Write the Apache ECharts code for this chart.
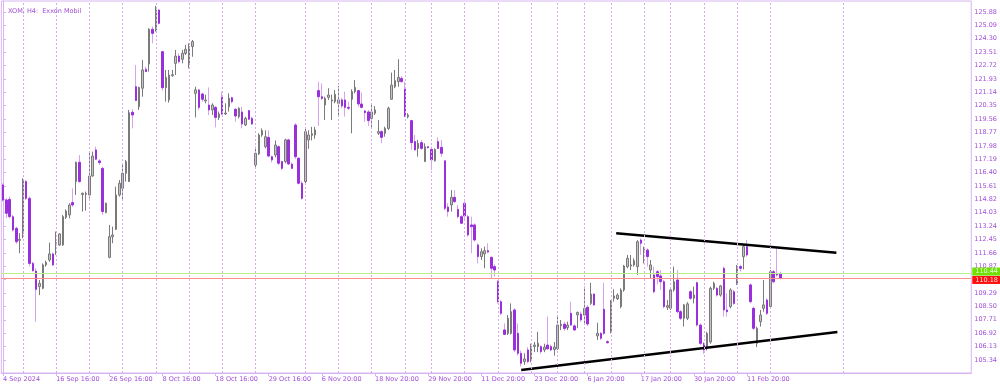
<!DOCTYPE html>
<html><head><meta charset="utf-8">
<script src="https://cdn.jsdelivr.net/npm/echarts@6/dist/echarts.min.js"></script>
<style>html,body{margin:0;padding:0;background:#fff}#c{width:1000px;height:384px}</style>
</head><body><div id="c"></div>
<script>
// [open, close, low, high] for each H4 bar
const ohlc = [
[115.67,114.78,114.69,115.77],[114.78,114.00,113.70,114.88],[114.82,113.80,113.70,114.98],[113.80,113.01,112.92,113.90],[113.11,112.32,112.20,113.20],
[112.40,112.46,111.64,112.82],[112.82,115.96,112.52,116.06],[115.87,114.88,114.78,115.96],[114.88,111.04,110.85,114.98],[111.04,110.61,110.55,111.14],
[110.59,109.51,107.60,110.75],[109.67,109.86,109.17,110.06],[109.57,110.95,109.51,111.04],[110.95,111.10,110.85,111.20],[111.24,111.60,111.14,112.27],
[111.60,110.95,110.89,111.68],[112.13,112.27,111.54,112.92],[112.13,112.78,112.07,112.82],[112.13,113.80,112.07,113.90],[113.76,114.13,113.66,114.23],
[113.90,114.49,113.70,114.59],[114.63,114.49,114.39,115.47],[115.87,117.01,115.08,117.05],[117.01,115.87,115.81,117.44],[115.10,115.18,114.10,115.22],
[115.12,115.18,114.15,115.28],[115.08,116.20,114.88,117.64],[116.20,117.38,116.16,117.64],[117.74,117.19,117.15,117.93],[117.09,116.99,116.85,117.19],
[116.65,114.10,113.90,116.75],[114.04,114.59,114.00,114.63],[111.40,112.62,111.34,113.31],[112.62,112.72,112.23,113.21],[113.05,115.08,113.01,115.57],
[115.08,115.77,114.98,115.96],[115.47,116.36,114.78,116.95],[116.36,117.05,115.87,117.15],[115.87,119.94,115.87,120.10],[119.96,119.80,119.01,120.14],
[121.47,120.65,120.65,122.75],[120.29,121.43,120.10,121.47],[121.38,122.46,120.88,123.05],[122.50,122.36,122.36,122.65],[122.81,124.86,122.36,124.92],
[124.86,124.62,124.03,125.02],[124.82,126.00,124.72,126.24],[126.00,125.21,125.15,126.04],[123.54,121.41,121.24,123.54],[121.41,122.02,120.59,122.46],
[120.69,122.16,120.53,122.46],[122.12,122.18,122.06,122.46],[122.85,123.28,122.16,123.64],[123.28,122.95,122.85,123.44],[123.09,123.44,122.85,123.64],
[123.44,123.68,123.34,123.94],[122.75,123.84,122.55,124.03],[123.84,124.13,123.24,124.23],[121.08,121.28,119.66,121.47],[121.28,120.25,120.10,121.34],
[121.04,120.73,120.59,121.12],[120.63,120.69,120.49,121.00],[120.39,120.10,119.80,121.43],[120.10,120.39,119.80,120.49],[120.25,119.66,119.07,120.33],
[119.66,119.86,119.51,120.00],[120.84,119.86,119.80,121.18],[119.86,119.92,119.80,120.49],[120.29,120.78,120.00,121.08],[120.82,120.59,120.49,120.88],
[120.14,119.74,119.41,120.20],[119.70,120.20,119.60,120.25],[119.98,119.27,119.01,120.29],[119.21,119.60,119.15,119.70],[120.06,119.55,119.51,120.10],
[119.60,119.27,119.21,119.70],[116.85,117.54,116.65,117.93],[117.50,118.62,117.44,118.72],[118.62,118.88,118.52,119.01],[117.93,118.52,117.83,118.90],
[118.48,117.38,117.30,118.90],[117.34,117.15,117.00,117.40],[117.44,118.03,117.30,118.30],[117.93,116.95,116.85,118.00],[117.05,116.65,116.55,117.10],
[117.05,118.33,116.95,118.40],[118.33,116.91,116.85,118.40],[116.90,116.65,116.60,117.00],[119.21,117.34,117.20,119.31],[117.25,115.77,115.70,117.30],
[115.77,114.88,114.80,115.90],[115.87,118.82,115.70,119.00],[118.33,118.62,117.80,118.90],[118.60,118.70,118.30,119.10],[118.62,118.92,118.40,119.10],
[121.24,120.88,119.15,121.77],[120.88,120.78,120.69,121.67],[120.39,120.78,119.51,120.88],[120.84,120.98,120.69,121.38],[120.63,120.69,119.51,121.00],
[120.59,121.02,120.49,121.28],[120.49,120.69,119.70,121.51],[120.69,120.33,120.20,120.80],[120.69,120.25,119.70,121.18],[120.25,120.20,120.10,120.59],
[120.73,121.18,118.72,121.32],[121.18,121.43,121.08,121.87],[121.24,120.45,120.29,121.28],[120.45,120.25,120.20,121.12],[120.04,119.94,119.41,120.10],
[119.98,119.47,119.15,120.10],[119.60,119.98,119.01,120.49],[119.90,120.10,119.80,120.33],[118.72,118.82,118.62,119.51],[118.82,118.48,118.13,118.90],
[118.72,119.01,118.52,119.11],[119.01,120.20,118.92,120.29],[120.73,121.57,120.69,122.30],[121.47,121.83,121.38,122.46],[121.77,122.02,121.47,123.09],
[121.96,121.77,121.71,122.10],[121.32,119.70,119.70,121.77],[119.70,119.80,119.60,119.90],[119.47,118.17,117.74,119.51],[118.23,117.74,117.70,118.62],
[117.83,118.13,117.34,118.33],[118.17,117.83,117.74,118.33],[117.05,117.93,117.05,118.13],[117.93,117.87,117.83,117.95],[117.77,117.15,116.55,117.93],
[117.10,117.77,117.05,117.83],[118.23,117.83,117.83,118.48],[117.89,117.54,117.34,118.33],[117.10,114.29,114.19,117.10],[114.37,114.10,113.80,114.59],
[114.49,114.94,114.10,115.37],[114.94,114.69,114.59,115.37],[114.23,113.80,113.70,114.49],[113.80,113.41,113.37,113.90],[114.59,113.84,113.60,114.69],
[113.80,112.72,112.62,113.90],[113.31,113.21,111.64,113.80],[113.31,112.42,112.33,113.41],[112.13,111.44,111.04,112.23],[111.44,111.73,111.24,111.93],
[111.60,111.79,110.75,112.03],[111.79,111.71,111.64,112.23],[111.40,110.75,110.16,111.44],[110.85,110.65,110.26,110.98],[109.96,108.78,108.68,110.06],
[108.78,108.09,107.99,108.88],[107.11,106.85,106.81,107.50],[106.91,107.80,106.81,107.99],[106.91,108.19,106.85,108.68],[108.29,105.93,105.80,108.40],
[106.91,105.73,105.60,107.50],[105.73,105.14,104.95,105.90],[105.25,105.40,105.05,105.73],[105.93,105.25,105.15,106.10],[105.34,106.13,105.20,106.30],
[106.13,106.22,105.80,106.40],[106.13,106.32,105.80,107.00],[106.13,105.83,105.70,106.20],[105.93,106.10,105.80,106.30],[106.22,106.00,105.93,107.90],
[106.13,105.93,105.85,106.25],[105.95,106.10,105.60,106.40],[106.00,107.40,105.93,107.90],[107.35,107.45,107.10,107.70],[107.45,107.20,107.05,107.60],
[107.25,107.40,107.10,107.60],[108.09,107.40,107.35,108.78],[107.35,107.11,107.05,107.45],[108.00,108.15,107.21,108.19],[108.05,107.70,107.60,108.20],
[107.99,108.39,107.40,109.67],[108.45,107.46,107.35,108.59],[108.68,109.23,108.59,109.90],[109.23,108.59,108.53,109.27],[106.76,106.91,106.52,107.54],
[106.91,106.62,106.52,107.00],[108.33,106.91,106.81,109.90],[106.42,106.36,106.30,106.50],[107.01,108.78,106.91,108.88],[108.98,109.12,108.78,109.51],
[108.95,109.17,108.88,109.27],[108.49,109.47,108.39,109.57],[109.47,110.89,109.37,110.95],[110.85,111.34,110.75,111.54],[110.89,110.95,110.65,111.54],
[110.95,111.20,110.85,111.34],[110.85,112.32,110.36,112.42],[112.42,112.23,111.54,112.52],[111.83,111.87,111.04,112.03],[111.83,111.44,110.85,111.93],
[110.65,110.95,110.16,111.24],[110.36,109.37,109.27,110.85],[110.55,110.26,109.80,110.65],[110.30,109.96,109.47,110.65],[109.96,108.49,108.39,110.06],
[108.45,108.55,108.29,108.88],[108.39,109.47,108.29,109.57],[109.47,109.96,109.37,110.85],[110.06,108.19,108.09,110.65],[108.19,107.80,107.70,108.29],
[107.80,108.59,107.31,108.65],[107.80,108.65,107.70,108.75],[109.37,108.98,108.88,109.47],[108.98,109.17,108.68,109.67],[109.90,107.40,107.31,109.96],
[107.40,106.32,106.22,107.50],[106.32,105.93,105.70,106.40],[106.13,106.91,105.90,107.00],[106.40,109.57,106.30,109.67],[109.57,109.86,109.47,109.96],
[109.57,109.17,109.08,109.67],[109.17,109.71,109.08,109.77],[110.75,108.29,107.90,110.85],[108.29,108.19,107.90,109.27],[108.49,109.47,108.39,109.57],
[109.37,108.68,108.59,109.47],[109.86,110.85,109.77,110.95],[110.85,110.75,110.55,110.95],[111.44,112.03,110.69,112.13],[112.03,111.54,111.44,112.42],
[109.77,108.78,108.68,109.86],[108.39,107.21,107.11,108.49],[106.32,107.21,106.10,107.30],[107.60,107.99,107.31,108.29],[108.39,108.59,108.19,110.06],
[108.88,108.09,107.99,108.98],[108.49,110.55,108.39,110.65],[110.55,109.96,109.86,110.65],[110.45,110.36,110.26,111.93],[110.45,110.16,110.10,110.55]
];
const totalBars = 292;               // visible bar slots incl. empty space on the right
const dateLabels = ["4 Sep 2024","16 Sep 16:00","26 Sep 16:00","8 Oct 16:00","18 Oct 16:00","29 Oct 16:00","6 Nov 20:00","18 Nov 20:00","29 Nov 20:00","11 Dec 20:00","23 Dec 20:00","6 Jan 20:00","17 Jan 20:00","30 Jan 20:00","11 Feb 20:00"];
const labelBars = [0,16,32,48,64,80,96,112,128,144,160,176,192,208,224];
const gridBars = [6,16,26,36,46,56,66,76,91,101,111,121,129,139,149,159,167,175,183,193,201,211,221,231,253];
const priceTicks = [105.34,106.13,106.92,107.71,108.50,109.29,110.08,110.87,111.66,112.45,113.24,114.03,114.82,115.61,116.40,117.19,117.98,118.77,119.56,120.35,121.14,121.93,122.72,123.51,124.30,125.09,125.88];
const askPrice = 110.44, bidPrice = 110.18;
const upperTrend = [[184.6,112.82],[250.9,111.67]];
const lowerTrend = [[156.0,104.75],[251.2,106.99]];

const categories = Array.from({length: totalBars}, (_, i) => {
  const k = labelBars.indexOf(i); return k >= 0 ? dateLabels[k] : '';
});
const bodies = ohlc.map(([o, c]) => [o, c, Math.min(o, c), Math.max(o, c)]);

const AX = '#d8b4f2', TXT = '#a24fd8', GRID = '#d9a8f2';
const FONT = 'DejaVu Sans';
const chart = echarts.init(document.getElementById('c'), null, {renderer: 'canvas'});
chart.setOption({
  animation: false,
  backgroundColor: '#fff',
  title: {text: 'XOM, H4:  Exxon Mobil', left: 3, top: 3,
    textStyle: {fontSize: 6.5, color: TXT, fontWeight: 'normal', fontFamily: FONT}},
  grid: {left: 0, right: 27, top: 1, bottom: 11, show: true, borderColor: AX, borderWidth: 1, backgroundColor: '#fff'},
  xAxis: [{
    type: 'category', data: categories, boundaryGap: true,
    axisLine: {lineStyle: {color: AX, width: 1}},
    axisTick: {show: true, alignWithLabel: true, length: 3, interval: (i) => labelBars.includes(i), lineStyle: {color: AX}},
    axisLabel: {interval: (i) => labelBars.includes(i), align: 'left', margin: 3, fontSize: 6.5, color: TXT, fontFamily: FONT},
    splitLine: {show: false}
  }, {
    type: 'value', min: -0.5, max: totalBars - 0.5, show: false
  }],
  yAxis: {
    type: 'value', position: 'right', min: 104.57, max: 126.53, scale: true,
    axisLine: {show: true, lineStyle: {color: AX, width: 1}},
    axisTick: {show: true, length: 3, customValues: priceTicks, lineStyle: {color: AX}},
    axisLabel: {customValues: priceTicks, formatter: (v) => v.toFixed(2), margin: 3, fontSize: 6.5, color: TXT, fontFamily: FONT},
    splitLine: {show: false}
  },
  series: [
    {
      type: 'line', xAxisIndex: 1, data: [], silent: true,
      markLine: {silent: true, symbol: 'none', animation: false,
        lineStyle: {color: GRID, type: [2, 2], width: 1},
        label: {show: false},
        data: gridBars.map(b => ({xAxis: b}))}
    },
    {
      type: 'candlestick', name: 'wicks', data: ohlc, barWidth: 1, silent: true,
      itemStyle: {color: '#7a7a7a', color0: '#d7a3f0', borderColor: '#7a7a7a', borderColor0: '#d7a3f0', borderWidth: 1}
    },
    {
      type: 'candlestick', name: 'bodies', data: bodies, barWidth: 2, silent: true,
      itemStyle: {color: '#c4c4c4', color0: '#9a2fdc', borderColor: '#7a7a7a', borderColor0: '#9a2fdc', borderWidth: 1},
      markLine: {silent: true, symbol: 'none', animation: false,
        data: [
          {yAxis: askPrice, lineStyle: {color: '#b8f08a', type: 'solid', width: 1},
            label: {show: true, position: 'end', distance: 1, offset: [0, -2], formatter: askPrice.toFixed(2), backgroundColor: '#6fe000', color: '#e8ffe0', fontSize: 6.5, fontFamily: FONT, padding: [1, 3, 0, 3]}},
          {yAxis: bidPrice, lineStyle: {color: '#ff8f8f', type: 'solid', width: 1},
            label: {show: true, position: 'end', distance: 1, offset: [0, 2], formatter: bidPrice.toFixed(2), backgroundColor: '#ff1010', color: '#ffe0e0', fontSize: 6.5, fontFamily: FONT, padding: [1, 3, 0, 3]}}
        ]}
    },
    {type: 'line', xAxisIndex: 1, data: upperTrend, symbol: 'none', silent: true, lineStyle: {color: '#000', width: 2.5}},
    {type: 'line', xAxisIndex: 1, data: lowerTrend, symbol: 'none', silent: true, lineStyle: {color: '#000', width: 2.5}}
  ]
});
</script></body></html>
